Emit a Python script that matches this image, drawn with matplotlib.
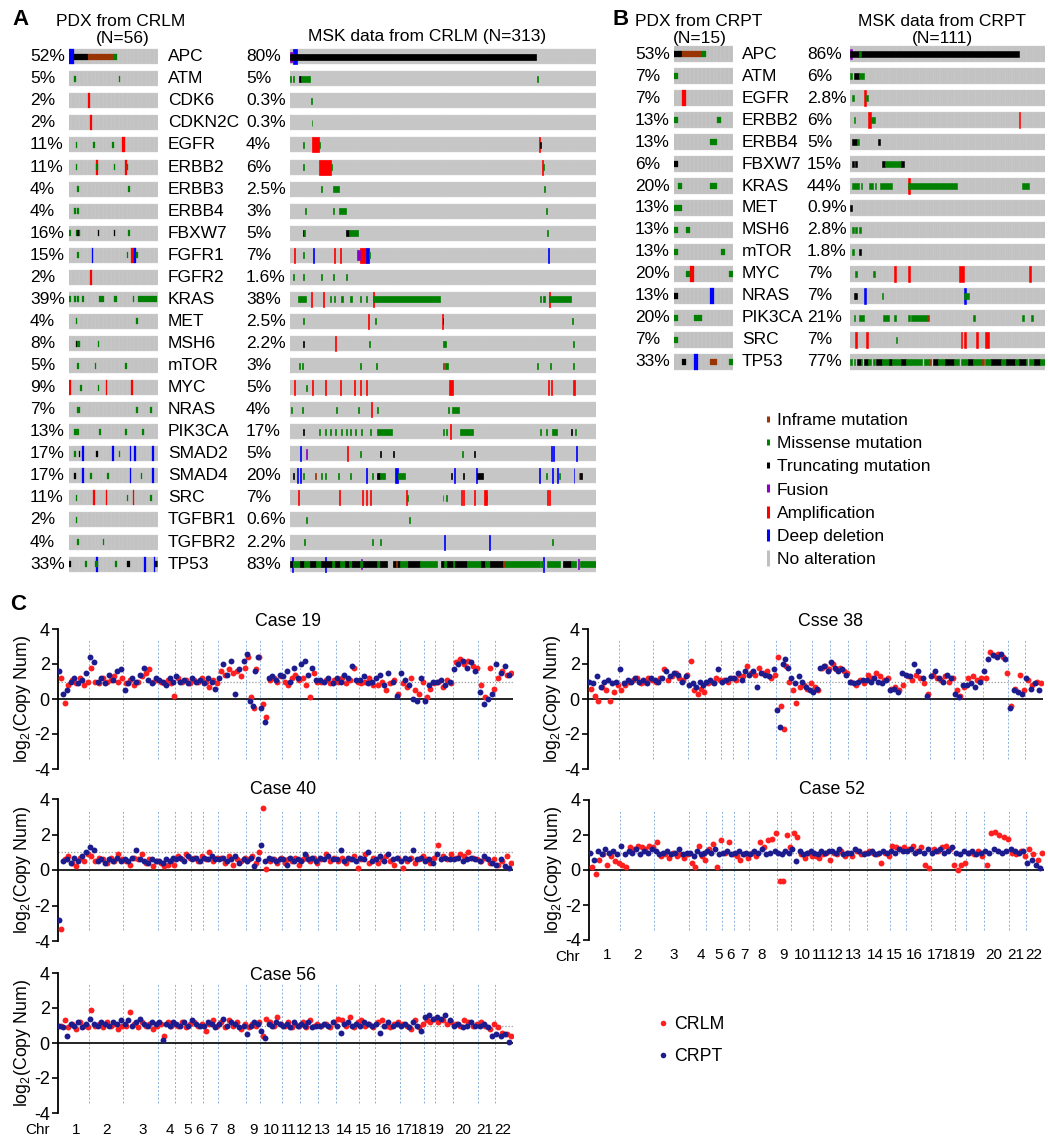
import numpy as np
import matplotlib
matplotlib.use('Agg')
import matplotlib.pyplot as plt
from matplotlib.lines import Line2D

plt.rcParams['font.family'] = ['Liberation Sans', 'DejaVu Sans']
plt.rcParams['axes.unicode_minus'] = False
plt.rcParams['mathtext.fontset'] = 'custom'
plt.rcParams['mathtext.rm'] = 'Liberation Sans'
plt.rcParams['mathtext.it'] = 'Liberation Sans:italic'

# ---------------------------------------------------------------- data: oncoprints
genes_A = ['APC', 'ATM', 'CDK6', 'CDKN2C', 'EGFR', 'ERBB2', 'ERBB3', 'ERBB4', 'FBXW7', 'FGFR1',
           'FGFR2', 'KRAS', 'MET', 'MSH6', 'mTOR', 'MYC', 'NRAS', 'PIK3CA', 'SMAD2', 'SMAD4',
           'SRC', 'TGFBR1', 'TGFBR2', 'TP53']
pct_pdx_crlm = ['52%', '5%', '2%', '2%', '11%', '11%', '4%', '4%', '16%', '15%', '2%', '39%',
                '4%', '8%', '5%', '9%', '7%', '13%', '17%', '17%', '11%', '2%', '4%', '33%']
pct_msk_crlm = ['80%', '5%', '0.3%', '0.3%', '4%', '6%', '2.5%', '3%', '5%', '7%', '1.6%', '38%',
                '2.5%', '2.2%', '3%', '5%', '4%', '17%', '5%', '20%', '7%', '0.6%', '2.2%', '83%']
n_pdx_crlm = 56
n_msk_crlm = 313

genes_B = ['APC', 'ATM', 'EGFR', 'ERBB2', 'ERBB4', 'FBXW7', 'KRAS', 'MET', 'MSH6', 'mTOR',
           'MYC', 'NRAS', 'PIK3CA', 'SRC', 'TP53']
pct_pdx_crpt = ['53%', '7%', '7%', '13%', '13%', '6%', '20%', '13%', '13%', '13%', '20%', '13%',
                '20%', '7%', '33%']
pct_msk_crpt = ['86%', '6%', '2.8%', '6%', '5%', '15%', '44%', '0.9%', '2.8%', '1.8%', '7%', '7%',
                '21%', '7%', '77%']
n_pdx_crpt = 15
n_msk_crpt = 111

# alteration runs: (first sample, number of samples, type)
# M missense, T truncating, I inframe, F fusion, A amplification, D deep deletion
alt_pdx_crlm = {
    'APC': [(0, 3, 'D'), (3, 9, 'T'), (12, 16, 'I'), (28, 2, 'M')],
    'ATM': [(3, 1, 'M'), (31, 1, 'M')],
    'CDK6': [(12, 1, 'A')],
    'CDKN2C': [(13, 1, 'A')],
    'EGFR': [(4, 1, 'M'), (15, 1, 'M'), (27, 1, 'M'), (33, 2, 'A')],
    'ERBB2': [(4, 1, 'M'), (17, 1, 'A'), (17, 1, 'M'), (28, 1, 'M'), (35, 1, 'A'), (36, 1, 'M')],
    'ERBB3': [(5, 1, 'M'), (37, 1, 'M')],
    'ERBB4': [(3, 1, 'M'), (5, 1, 'M')],
    'FBXW7': [(0, 1, 'M'), (4, 1, 'M'), (5, 1, 'T'), (6, 1, 'M'), (18, 1, 'T'), (28, 1, 'T'), (37, 1, 'M')],
    'FGFR1': [(5, 1, 'M'), (14, 1, 'D'), (36, 1, 'M'), (39, 2, 'A'), (41, 1, 'D'), (42, 1, 'M')],
    'FGFR2': [(13, 1, 'A')],
    'KRAS': [(0, 1, 'M'), (3, 1, 'M'), (5, 1, 'M'), (8, 1, 'M'), (19, 3, 'M'), (28, 2, 'M'),
             (40, 1, 'M'), (43, 12, 'M')],
    'MET': [(4, 1, 'M'), (42, 1, 'M')],
    'MSH6': [(4, 1, 'T'), (5, 1, 'M'), (6, 1, 'M'), (18, 1, 'M')],
    'mTOR': [(5, 1, 'M'), (16, 1, 'M'), (35, 1, 'M')],
    'MYC': [(0, 1, 'A'), (7, 1, 'M'), (18, 1, 'M'), (23, 1, 'A'), (39, 1, 'A')],
    'NRAS': [(5, 2, 'M'), (42, 1, 'M'), (51, 1, 'M')],
    'PIK3CA': [(3, 3, 'M'), (19, 1, 'M'), (35, 1, 'M'), (46, 1, 'M')],
    'SMAD2': [(3, 1, 'M'), (6, 1, 'T'), (8, 1, 'D'), (17, 1, 'T'), (27, 1, 'D'), (31, 1, 'M'),
              (38, 1, 'D'), (41, 1, 'D'), (52, 1, 'D')],
    'SMAD4': [(3, 1, 'T'), (8, 1, 'D'), (13, 1, 'M'), (24, 1, 'M'), (38, 1, 'D'), (45, 1, 'M'), (52, 1, 'D')],
    'SRC': [(4, 1, 'M'), (15, 1, 'A'), (23, 1, 'A'), (36, 1, 'M'), (40, 1, 'A'), (51, 1, 'M')],
    'TGFBR1': [(4, 1, 'M')],
    'TGFBR2': [(5, 1, 'M'), (21, 1, 'M')],
    'TP53': [(0, 1, 'T'), (10, 1, 'M'), (16, 2, 'M'), (17, 1, 'D'), (29, 1, 'M'), (36, 2, 'T'),
             (47, 1, 'D'), (53, 1, 'D'), (54, 1, 'T'), (55, 1, 'M')],
}

alt_msk_crlm = {
    'APC': [(0, 252, 'T'), (0, 3, 'F'), (3, 4, 'D')],
    'ATM': [(0, 1, 'M'), (3, 1, 'M'), (9, 2, 'T'), (11, 9, 'M'), (253, 1, 'M')],
    'CDK6': [(21, 1, 'M')],
    'CDKN2C': [(22, 1, 'M')],
    'EGFR': [(13, 1, 'M'), (23, 7, 'A'), (30, 1, 'M'), (255, 1, 'A'), (256, 1, 'T')],
    'ERBB2': [(13, 1, 'M'), (30, 12, 'A'), (42, 1, 'M'), (258, 1, 'A'), (259, 1, 'M')],
    'ERBB3': [(32, 1, 'M'), (44, 6, 'M'), (260, 1, 'M')],
    'ERBB4': [(15, 1, 'M'), (44, 1, 'M'), (50, 7, 'M'), (262, 1, 'M')],
    'FBXW7': [(13, 1, 'T'), (14, 1, 'M'), (57, 3, 'T'), (60, 10, 'M'), (263, 1, 'M')],
    'FGFR1': [(4, 1, 'A'), (13, 1, 'M'), (24, 1, 'D'), (45, 1, 'A'), (51, 1, 'A'), (69, 3, 'F'),
              (72, 6, 'A'), (78, 3, 'D'), (81, 1, 'M'), (264, 1, 'D')],
    'FGFR2': [(3, 1, 'M'), (13, 1, 'M'), (32, 1, 'M'), (44, 1, 'M'), (57, 1, 'M')],
    'KRAS': [(8, 8, 'M'), (21, 1, 'A'), (34, 1, 'A'), (41, 1, 'M'), (45, 1, 'M'), (52, 2, 'M'),
             (61, 2, 'M'), (72, 1, 'M'), (78, 1, 'M'), (85, 1, 'A'), (85, 68, 'M'), (256, 1, 'M'),
             (259, 2, 'M'), (265, 1, 'A'), (265, 22, 'M')],
    'MET': [(13, 1, 'M'), (80, 1, 'A'), (87, 1, 'M'), (155, 1, 'A'), (156, 1, 'T'), (288, 1, 'M')],
    'MSH6': [(13, 1, 'T'), (46, 1, 'A'), (81, 1, 'M'), (157, 3, 'M'), (289, 1, 'M')],
    'mTOR': [(9, 1, 'M'), (12, 1, 'M'), (72, 1, 'M'), (88, 1, 'M'), (157, 1, 'I'), (159, 3, 'M'),
             (253, 1, 'M'), (266, 1, 'M'), (289, 1, 'M')],
    'MYC': [(4, 1, 'A'), (16, 1, 'M'), (23, 1, 'A'), (36, 1, 'A'), (51, 1, 'A'), (65, 1, 'A'),
            (72, 1, 'A'), (78, 1, 'A'), (163, 4, 'A'), (264, 1, 'A'), (267, 1, 'A'), (289, 3, 'A')],
    'NRAS': [(1, 1, 'M'), (12, 1, 'M'), (47, 1, 'M'), (70, 1, 'M'), (83, 1, 'A'), (89, 1, 'M'),
             (162, 1, 'M'), (166, 7, 'M')],
    'PIK3CA': [(13, 1, 'T'), (30, 1, 'M'), (36, 1, 'M'), (41, 1, 'M'), (46, 1, 'M'), (52, 1, 'M'),
               (57, 1, 'M'), (61, 1, 'M'), (66, 1, 'M'), (73, 1, 'M'), (82, 1, 'M'), (89, 15, 'M'),
               (157, 1, 'M'), (160, 1, 'M'), (164, 1, 'A'), (174, 13, 'M'), (256, 1, 'M'),
               (262, 1, 'M'), (268, 5, 'M'), (287, 1, 'T'), (292, 1, 'M')],
    'SMAD2': [(10, 1, 'D'), (16, 1, 'F'), (58, 1, 'A'), (72, 1, 'M'), (92, 1, 'T'), (105, 1, 'T'),
              (176, 1, 'M'), (188, 1, 'T'), (267, 1, 'D'), (269, 1, 'D'), (293, 1, 'D')],
    'SMAD4': [(3, 1, 'T'), (7, 1, 'D'), (10, 1, 'D'), (13, 1, 'M'), (26, 1, 'I'), (32, 1, 'M'),
              (36, 1, 'M'), (49, 1, 'M'), (61, 1, 'M'), (78, 1, 'D'), (84, 1, 'M'), (89, 3, 'T'),
              (92, 5, 'M'), (107, 3, 'D'), (110, 8, 'M'), (165, 1, 'T'), (168, 1, 'D'), (177, 1, 'T'),
              (190, 1, 'D'), (191, 6, 'T'), (255, 1, 'D'), (262, 1, 'M'), (268, 1, 'D'), (273, 1, 'D'),
              (275, 1, 'M'), (290, 1, 'D'), (296, 1, 'I'), (297, 2, 'T')],
    'SRC': [(8, 1, 'A'), (50, 1, 'A'), (74, 1, 'A'), (78, 1, 'A'), (82, 1, 'A'), (119, 1, 'A'),
            (120, 1, 'M'), (156, 1, 'M'), (160, 1, 'M'), (175, 1, 'A'), (177, 1, 'A'), (188, 1, 'A'),
            (198, 3, 'A'), (201, 1, 'M'), (263, 1, 'A'), (265, 1, 'A')],
    'TGFBR1': [(16, 1, 'M'), (122, 1, 'M')],
    'TGFBR2': [(14, 1, 'M'), (84, 1, 'M'), (92, 1, 'M'), (158, 1, 'D'), (204, 1, 'D'), (268, 1, 'M')],
    'TP53': [(0, 2, 'T'), (2, 1, 'D'), (3, 7, 'M'), (10, 4, 'T'), (14, 6, 'M'), (20, 7, 'T'),
             (27, 5, 'M'), (32, 11, 'T'), (36, 1, 'D'), (43, 3, 'M'), (46, 5, 'T'), (51, 5, 'M'),
             (56, 4, 'T'), (60, 3, 'M'), (63, 9, 'T'), (72, 3, 'M'), (73, 1, 'F'), (75, 14, 'T'),
             (89, 3, 'M'), (92, 7, 'T'), (105, 8, 'T'), (108, 1, 'I'), (113, 8, 'M'), (121, 12, 'T'),
             (133, 17, 'M'), (154, 4, 'T'), (158, 3, 'M'), (161, 6, 'T'), (167, 2, 'M'),
             (169, 12, 'T'), (181, 14, 'M'), (195, 4, 'T'), (199, 6, 'M'), (205, 13, 'T'),
             (218, 2, 'I'), (220, 36, 'M'), (257, 2, 'M'), (259, 1, 'D'), (263, 13, 'M'),
             (279, 8, 'T'), (287, 6, 'M'), (295, 1, 'F'), (297, 16, 'M')],
}

alt_pdx_crpt = {
    'APC': [(0, 2, 'T'), (2, 5, 'I'), (7, 1, 'M')],
    'ATM': [(0, 1, 'M')],
    'EGFR': [(2, 1, 'A')],
    'ERBB2': [(0, 1, 'M'), (11, 1, 'M')],
    'ERBB4': [(9, 2, 'M')],
    'FBXW7': [(0, 1, 'T')],
    'KRAS': [(1, 1, 'M'), (9, 2, 'M')],
    'MET': [(0, 2, 'M')],
    'MSH6': [(0, 1, 'M'), (3, 1, 'M')],
    'mTOR': [(0, 1, 'M'), (12, 1, 'M')],
    'MYC': [(3, 1, 'M'), (4, 1, 'A'), (14, 1, 'M')],
    'NRAS': [(0, 1, 'T'), (9, 1, 'D')],
    'PIK3CA': [(0, 1, 'M'), (5, 2, 'M')],
    'SRC': [(0, 1, 'M')],
    'TP53': [(2, 1, 'T'), (5, 1, 'D'), (9, 2, 'I'), (14, 1, 'M')],
}

alt_msk_crpt = {
    'APC': [(0, 96, 'T'), (0, 1, 'F'), (5, 1, 'M')],
    'ATM': [(0, 1, 'M'), (2, 3, 'T'), (5, 3, 'M')],
    'EGFR': [(1, 1, 'M'), (8, 1, 'A'), (9, 1, 'M')],
    'ERBB2': [(2, 1, 'M'), (10, 2, 'A'), (12, 2, 'M'), (96, 1, 'A')],
    'ERBB4': [(1, 3, 'T'), (4, 1, 'M'), (16, 1, 'T')],
    'FBXW7': [(1, 1, 'T'), (3, 1, 'T'), (18, 2, 'T'), (20, 9, 'M'), (29, 2, 'T')],
    'KRAS': [(1, 4, 'M'), (6, 1, 'M'), (11, 2, 'M'), (14, 1, 'M'), (17, 7, 'M'), (33, 1, 'A'),
             (33, 28, 'M'), (98, 4, 'M')],
    'MET': [(0, 1, 'T')],
    'MSH6': [(1, 1, 'M'), (3, 1, 'M'), (5, 1, 'M')],
    'mTOR': [(1, 1, 'M'), (5, 1, 'T')],
    'MYC': [(3, 1, 'M'), (13, 1, 'M'), (25, 1, 'A'), (33, 1, 'A'), (62, 3, 'A'), (102, 1, 'A')],
    'NRAS': [(2, 1, 'T'), (3, 1, 'T'), (8, 1, 'D'), (18, 1, 'M'), (65, 1, 'D'), (65, 3, 'M')],
    'PIK3CA': [(2, 1, 'M'), (5, 3, 'M'), (19, 3, 'M'), (25, 1, 'M'), (33, 1, 'M'), (35, 9, 'M'),
               (44, 1, 'I'), (70, 1, 'M'), (98, 1, 'M'), (103, 1, 'M')],
    'SRC': [(3, 1, 'A'), (9, 1, 'A'), (26, 1, 'M'), (63, 1, 'A'), (65, 1, 'A'), (72, 1, 'A'), (77, 2, 'A')],
    'TP53': [(0, 1, 'M'), (2, 1, 'M'), (4, 2, 'T'), (6, 1, 'M'), (8, 2, 'T'), (10, 2, 'M'), (13, 1, 'M'),
             (15, 3, 'T'), (18, 4, 'M'), (22, 2, 'T'), (24, 5, 'M'), (29, 3, 'T'), (32, 3, 'M'),
             (35, 6, 'M'), (42, 3, 'M'), (45, 1, 'I'), (47, 3, 'T'), (50, 4, 'M'), (54, 5, 'T'),
             (59, 3, 'M'), (63, 4, 'M'), (67, 3, 'T'), (70, 5, 'M'), (75, 1, 'I'), (77, 3, 'M'),
             (80, 6, 'T'), (86, 3, 'M'), (89, 5, 'T'), (94, 2, 'M'), (96, 4, 'T'), (100, 1, 'M'),
             (102, 3, 'M'), (105, 3, 'T'), (108, 3, 'M')],
}

legend_labels = ['Inframe mutation', 'Missense mutation', 'Truncating mutation', 'Fusion',
                 'Amplification', 'Deep deletion', 'No alteration']

# ---------------------------------------------------------------- data: copy number
chrom_names = [str(i) for i in range(1, 23)]
chrom_width = [92, 104, 105, 51, 46, 37, 45, 85, 41, 67, 53, 55, 52, 69, 48, 75, 73, 34, 52, 77, 50, 52]
chrom_label_pos = [55, 145, 255, 335, 388, 425, 465, 518, 585, 640, 693, 740, 793, 860, 915, 975,
                   1038, 1083, 1135, 1215, 1280, 1335]

case19_crlm = [[1.2, -0.2, 0.8, 1.1, 0.9, 1.2, 0.8, 1.0], [1.8, 1.0, 0.9, 1.2, 1.0, 1.1, 1.3, 1.0, 1.2],
               [0.9, 1.1, 0.8, 1.0, 1.3, 1.5, 1.7, 1.0, 1.1], [1.0, 0.9, 1.1, 0.9, 0.2], [1.2, 1.0, 1.1, 0.9],
               [1.1, 1.0, 1.2], [1.0, 0.7, 1.1, 0.9], [1.6, 1.4, 1.7, 1.5, 1.6, 1.3, 1.8],
               [2.4, 0.1, -0.5, 1.7, 2.4], [-0.3, -1.0, 1.1, 1.2, 1.0, 1.3], [1.0, 0.8, 1.2, 1.4, 1.1],
               [1.2, 0.8, 0.1, 1.5, 1.0], [1.0, 1.1, 0.9, 1.1], [1.0, 1.2, 0.9, 1.1, 1.8, 1.0],
               [0.9, 1.0, 1.2, 0.8], [0.8, 1.0, 0.5, 0.9, 1.1, 0.3], [0.9, 0.7, 1.2, 0.5, 0.3, 1.0],
               [0.1, 0.6, 0.9], [1.0, 0.7, 1.1, 0.9], [2.1, 2.3, 2.0, 2.2, 1.9, 1.8],
               [0.8, 0.1, 1.8, 0.6], [1.2, 1.6, 1.4, 1.5]]
case19_crpt = [[1.6, 0.3, 0.5, 1.0, 1.2, 0.9, 1.1, 1.5], [2.4, 2.1, 1.0, 1.2, 0.9, 1.4, 1.1, 1.6, 1.7],
               [0.5, 0.9, 1.2, 1.0, 1.4, 1.8, 1.1, 0.9, 1.2], [1.1, 1.0, 0.8, 1.2, 1.0], [1.3, 1.0, 1.1, 0.9],
               [1.2, 1.0, 1.1], [0.9, 1.2, 1.0, 0.6], [1.2, 2.0, 1.4, 2.2, 0.3, 1.7, 2.2],
               [2.6, -0.1, -0.4, 1.6, 2.4], [-0.5, -1.3, 1.2, 1.3, 1.1, 1.4], [1.3, 1.6, 1.0, 1.8, 1.2],
               [2.0, 2.2, 1.4, 1.8, 1.1], [1.1, 1.0, 1.2, 0.9], [1.2, 1.0, 1.4, 1.2, 1.9, 1.1],
               [1.1, 1.3, 0.9, 1.0], [1.2, 1.4, 0.8, 1.5, 1.0, 0.2], [1.5, 1.1, 0.8, 0.0, -0.1, 1.2],
               [-0.1, 0.8, 1.0], [1.0, 1.1, 0.8, 1.0], [1.7, 2.0, 2.2, 1.8, 2.1, 1.6],
               [0.4, -0.3, 0.0, 0.3], [2.0, 1.5, 1.9, 1.4]]

case38_crlm = [[0.6, 0.2, -0.1, 0.7, 0.5, -0.1, 0.4, 0.8], [0.5, 0.8, 1.0, 1.1, 1.2, 0.9, 1.0, 1.2, 1.1],
               [1.0, 1.2, 1.7, 1.1, 1.3, 1.5, 1.2, 1.1, 1.4], [2.2, 0.5, 0.3, 0.6, 0.4], [0.9, 1.0, 1.2, 1.1],
               [1.1, 1.0, 1.2], [1.1, 1.4, 1.3, 1.9], [1.5, 1.4, 1.8, 1.5, 1.6, 1.2, 1.4],
               [2.4, -0.4, -1.7, 1.9, 1.0], [0.5, -0.2, 0.7, 0.8, 0.6, 0.9], [0.7, 0.5, 1.8, 1.9, 1.7],
               [2.0, 1.7, 1.8, 1.6, 1.5], [1.0, 0.8, 1.1, 0.9], [1.4, 1.2, 1.5, 1.3, 1.1, 1.2],
               [0.6, 0.7, 0.5, 0.8], [1.3, 1.1, 1.4, 1.2, 0.9, 0.3], [1.4, 1.2, 1.1, 1.3, 1.0, 1.2],
               [0.5, 0.2, 0.7], [1.2, 1.3, 1.1, 1.2], [1.2, 2.7, 2.5, 2.6, 2.4, 1.5],
               [-0.4, 0.6, 1.4, 0.5], [1.1, 0.8, 1.0, 0.9]]
case38_crpt = [[1.0, 0.9, 1.3, 0.7, 1.0, 1.1, 0.9, 1.0], [1.7, 0.9, 1.1, 1.0, 1.2, 1.0, 1.1, 0.9, 1.2],
               [1.1, 1.0, 1.2, 1.6, 1.3, 1.5, 1.4, 1.0, 1.3], [0.8, 0.9, 0.7, 1.0, 0.8], [1.0, 1.1, 0.9, 1.7],
               [1.0, 1.1, 1.2], [1.2, 1.5, 1.1, 1.6], [1.4, 1.6, 0.7, 1.5, 1.4, 1.3, 1.7],
               [-0.6, -1.6, 2.0, 2.3, 1.8], [1.2, 0.9, 1.3, 1.0, 0.7, 0.5], [0.4, 0.6, 1.8, 1.9, 1.6],
               [2.1, 1.8, 1.6, 1.7, 1.4], [1.0, 0.9, 1.0, 1.1], [1.1, 1.0, 1.2, 1.0, 0.9, 1.1],
               [0.5, 0.6, 0.4, 1.5], [1.4, 1.3, 2.0, 1.6, 1.2, 0.2], [1.3, 1.6, 1.2, 1.0, 1.4, 1.2],
               [0.3, 0.1, 0.8], [0.8, 0.9, 0.7, 1.0], [1.6, 2.3, 2.5, 2.4, 2.6, 2.3],
               [-0.5, 0.5, 0.4, 0.3], [1.2, 0.6, 0.9, 0.5]]

case40_crlm = [[-3.3, 0.6, 0.8, 0.4, 0.2, 0.7, 0.5, 0.9], [0.8, 0.5, 0.7, 0.6, 0.4, 0.7, 0.5, 0.9, 0.6],
               [0.5, 0.3, 0.7, 0.6, 0.9, 0.4, 0.6, 0.2, 0.5], [0.4, 0.2, 0.3, 0.5, 0.3], [0.8, 0.6, 0.9, 0.7],
               [0.7, 0.5, 0.8], [0.6, 1.0, 0.5, 0.7], [0.7, 0.4, 0.8, 0.3, 0.6, 0.5, 0.7],
               [0.6, 0.8, 0.4, 1.0], [3.5, 0.05, 0.5, 0.6, 0.4, 0.7], [0.4, 0.6, 0.5, 0.7, 0.3],
               [0.6, 0.8, 0.5, 0.7, 0.4], [0.6, 0.9, 0.5, 0.7], [0.5, 0.7, 0.4, 0.6, 0.8, 0.1],
               [0.6, 0.9, 0.4, 0.7], [0.4, 0.6, 0.8, 0.5, 0.3, 0.7], [0.1, 0.5, 0.7, 0.4, 0.6, 0.8],
               [0.6, 0.4, 0.7], [1.4, 0.8, 0.6, 0.9], [0.7, 0.9, 0.8, 1.0, 0.7, 0.6],
               [0.5, 0.7, 0.4, 0.6], [0.3, 0.5, 0.8, 0.4]]
case40_crpt = [[-2.8, 0.5, 0.6, 0.4, 0.7, 0.5, 0.8, 1.0], [1.3, 1.1, 0.5, 0.6, 0.4, 0.6, 0.5, 0.7, 0.5],
               [0.6, 0.5, 0.7, 1.1, 0.6, 0.5, 0.4, 0.6, 0.5], [0.5, 0.4, 0.6, 0.5, 0.7], [0.6, 0.7, 0.5, 0.8],
               [0.6, 0.7, 0.5], [0.7, 0.6, 0.8, 0.6], [0.6, 0.7, 0.5, 0.6, 0.8, 0.4, 0.6],
               [0.5, 0.7, 0.2, 0.6], [1.4, 0.5, 0.7, 0.6, 0.5, 0.6], [0.6, 0.3, 0.7, 0.5, 0.6],
               [0.5, 0.9, 0.6, 0.7, 0.5], [0.7, 0.6, 0.8, 0.6], [0.6, 1.1, 0.5, 0.7, 0.6, 0.5],
               [0.7, 0.6, 1.0, 0.5], [0.6, 0.8, 0.5, 0.9, 0.6, 0.7], [0.5, 0.7, 0.6, 1.1, 0.6, 0.7],
               [0.5, 0.6, 0.4], [0.9, 0.6, 0.7, 0.6], [0.6, 0.7, 0.5, 0.6, 0.7, 0.6],
               [0.5, 0.8, 0.6, 0.4], [0.3, 0.6, 0.2, 0.1]]

case52_crlm = [[0.2, -0.2, 0.6, 0.9, 0.3, 0.8, 0.5, 0.4], [0.3, 0.2, 1.3, 1.2, 1.4, 1.3, 1.2, 1.4, 1.3],
               [1.6, 0.8, 0.9, 0.7, 1.0, 0.8, 0.9, 0.7, 0.9], [0.4, 0.2, 1.4, 0.8, 0.6], [1.2, 1.5, 0.2, 1.7],
               [1.0, 1.6, 0.9], [0.8, 0.6, 0.9, 0.7], [1.0, 0.8, 1.6, 1.3, 1.7, 1.8, 2.1],
               [-0.6, -0.6, 2.0, 1.3], [2.1, 1.9, 0.9, 0.7, 1.0, 0.8], [0.8, 0.7, 0.9, 1.0, 0.6],
               [1.0, 0.9, 1.1, 0.8, 1.0], [0.8, 1.1, 0.9, 1.0], [1.1, 1.0, 0.9, 0.4, 1.0, 0.8],
               [1.4, 1.3, 1.2, 1.3], [1.2, 1.4, 1.1, 1.3, 0.3, 0.1], [1.2, 1.1, 1.3, 1.4, 1.2, 0.3],
               [0.0, 0.3, 0.4], [1.0, 0.9, 1.1, 0.8], [0.3, 2.1, 2.2, 2.0, 1.9, 1.8],
               [1.0, 0.9, 1.1, 0.8], [1.2, 0.9, 0.6, 1.0]]
case52_crpt = [[1.0, 0.6, 1.1, 0.9, 1.2, 1.0, 1.1, 0.9], [1.4, 0.9, 1.1, 1.0, 1.2, 0.9, 1.1, 1.0, 1.2],
               [1.1, 0.9, 1.0, 1.1, 0.9, 1.0, 1.2, 0.9, 1.0], [1.0, 0.8, 1.1, 0.9, 1.0], [1.1, 1.0, 1.2, 0.9],
               [1.0, 1.1, 0.9], [1.0, 1.1, 0.9, 1.0], [0.9, 1.1, 1.0, 1.2, 0.9, 1.0, 1.1],
               [1.0, 0.9, 1.1, 1.0], [1.2, 0.5, 1.1, 0.9, 1.0, 1.1], [1.0, 0.9, 1.1, 1.0, 1.1],
               [1.1, 1.0, 1.2, 0.9, 1.0], [1.0, 1.2, 1.1, 0.9], [1.0, 1.1, 0.9, 1.0, 1.1, 1.0],
               [1.1, 1.0, 1.2, 1.1], [1.1, 1.2, 1.0, 1.1, 1.0, 1.2], [1.0, 1.1, 1.2, 1.0, 1.1, 1.3],
               [1.0, 0.9, 1.1], [1.0, 1.1, 0.9, 1.0], [1.1, 1.0, 1.2, 1.1, 1.0, 1.1],
               [1.2, 1.1, 1.0, 1.1], [0.4, 0.6, 0.3, 0.1]]

case56_crlm = [[1.0, 1.3, 0.9, 1.1, 0.8, 1.2, 1.0, 0.9], [1.9, 1.0, 1.1, 0.9, 1.2, 1.0, 1.1, 0.8, 1.0],
               [1.0, 1.8, 1.1, 0.9, 1.2, 1.0, 1.1, 0.8, 1.0], [1.1, 0.4, 1.2, 1.0, 1.1], [1.0, 1.2, 0.9, 1.1],
               [1.2, 1.0, 1.1], [0.7, 1.1, 1.3, 1.0], [1.2, 0.9, 1.3, 1.0, 1.2, 0.8, 1.1],
               [0.9, 1.1, 1.0, 1.2], [0.4, 1.4, 1.2, 1.0, 1.5, 1.1], [1.0, 1.2, 0.9, 1.1, 1.0],
               [1.2, 0.9, 1.3, 1.0, 1.1], [1.0, 1.1, 0.9, 1.2], [1.4, 1.3, 1.0, 1.5, 0.9, 1.2],
               [1.3, 1.0, 1.1, 0.9], [1.2, 1.3, 1.0, 0.9, 1.1, 1.2], [1.1, 1.0, 0.8, 1.3, 0.9, 1.1],
               [1.3, 1.2, 1.4], [1.2, 1.3, 1.1, 1.2], [1.1, 1.0, 1.3, 1.2, 1.0, 1.1],
               [1.2, 1.0, 0.8, 1.1], [0.9, 0.6, 0.5, 0.4]]
case56_crpt = [[1.0, 0.9, 0.4, 1.1, 1.0, 1.2, 0.9, 1.1], [1.4, 1.1, 1.0, 1.2, 1.1, 1.0, 1.2, 1.1, 1.3],
               [1.1, 1.3, 1.0, 1.2, 1.4, 1.1, 1.0, 1.2, 1.1], [1.2, 0.2, 1.1, 1.0, 1.2], [1.1, 1.0, 1.2, 1.0],
               [1.3, 1.1, 1.0], [1.0, 1.2, 1.1, 0.9], [1.1, 1.4, 1.0, 1.2, 1.1, 0.9, 1.0],
               [0.5, 1.0, 1.2, 1.1], [0.7, 0.3, 1.1, 1.0, 1.2, 1.1], [1.0, 1.1, 0.9, 1.2, 1.0],
               [1.1, 1.0, 1.2, 0.9, 1.0], [1.0, 1.1, 1.0, 1.2], [1.0, 0.6, 1.1, 1.2, 1.0, 1.1],
               [1.0, 1.2, 1.1, 1.0], [1.1, 0.6, 1.0, 1.2, 1.0, 1.1], [1.0, 1.1, 0.9, 1.2, 1.0, 0.7],
               [1.5, 1.6, 1.4], [1.5, 1.4, 1.6, 1.3], [1.0, 1.1, 0.9, 1.0, 1.2, 1.0],
               [1.0, 1.1, 0.9, 0.4], [0.5, 0.4, 0.5, 0.05]]

# ---------------------------------------------------------------- styles
COL = {'M': '#008000', 'T': '#000000', 'I': '#993404', 'F': '#8B00C9', 'A': '#FF0000', 'D': '#0000FF'}
HFRAC = {'A': 1.0, 'D': 1.0, 'F': 0.65, 'M': 0.4, 'T': 0.4, 'I': 0.4}
ORDER = {'A': 0, 'D': 0, 'F': 1, 'M': 2, 'T': 2, 'I': 2}
GRAY = '#c0c0c0'
RED = '#ff1f1f'
NAVY = '#1c1c8f'

W, H = 1048, 1139
fig = plt.figure(figsize=(W / 100, H / 100), dpi=100)
fig.patch.set_facecolor('white')

ov = fig.add_axes([0, 0, 1, 1])
ov.set_xlim(0, W)
ov.set_ylim(H, 0)
ov.axis('off')


def add_ax(x0, y0, x1, y1):
    return fig.add_axes([x0 / W, 1 - y1 / H, (x1 - x0) / W, (y1 - y0) / H])


def oncoprint(ax, genes, n, alts, th, edge):
    ax.set_xlim(0, n)
    ax.set_ylim(len(genes) - 0.5, -0.5)
    ax.axis('off')
    idx = np.arange(n)
    for i, g in enumerate(genes):
        ax.bar(idx, th, bottom=i - th / 2, width=1, align='edge', color=GRAY,
               edgecolor='#d0d0d0', linewidth=0.25)
        for s, k, c in sorted(alts.get(g, []), key=lambda r: ORDER[r[2]]):
            h = th * HFRAC[c]
            ax.bar(s, h, bottom=i - h / 2, width=k, align='edge', color=COL[c],
                   edgecolor=COL[c], linewidth=edge)


FS = 12.5
# ---------------- Panel A
A_top, A_pitch = 45.7, 22.06
A_bot = A_top + A_pitch * len(genes_A)
oncoprint(add_ax(69.3, A_top, 158.3, A_bot), genes_A, n_pdx_crlm, alt_pdx_crlm, 0.68, 0.2)
oncoprint(add_ax(290, A_top, 596, A_bot), genes_A, n_msk_crlm, alt_msk_crlm, 0.68, 0.5)
for i, g in enumerate(genes_A):
    y = A_top + (i + 0.5) * A_pitch
    ov.text(30, y, pct_pdx_crlm[i], ha='left', va='center', fontsize=FS)
    ov.text(168, y, g, ha='left', va='center', fontsize=FS)
    ov.text(246, y, pct_msk_crlm[i], ha='left', va='center', fontsize=FS)
ov.text(12, 19.5, 'A', ha='left', va='center', fontsize=16, fontweight='bold')
ov.text(121, 21.7, 'PDX from CRLM', ha='center', va='center', fontsize=FS)
ov.text(123, 38, '(N=56)', ha='center', va='center', fontsize=FS)
ov.text(427.5, 36.7, 'MSK data from CRLM (N=313)', ha='center', va='center', fontsize=FS)

# ---------------- Panel B
B_top, B_pitch = 43.3, 21.96
B_bot = B_top + B_pitch * len(genes_B)
oncoprint(add_ax(674, B_top, 733.3, B_bot), genes_B, n_pdx_crpt, alt_pdx_crpt, 0.73, 0.2)
oncoprint(add_ax(850, B_top, 1045, B_bot), genes_B, n_msk_crpt, alt_msk_crpt, 0.73, 0.4)
for i, g in enumerate(genes_B):
    y = B_top + (i + 0.5) * B_pitch
    ov.text(635, y, pct_pdx_crpt[i], ha='left', va='center', fontsize=FS)
    ov.text(742, y, g, ha='left', va='center', fontsize=FS)
    ov.text(807, y, pct_msk_crpt[i], ha='left', va='center', fontsize=FS)
ov.text(612, 19.5, 'B', ha='left', va='center', fontsize=16, fontweight='bold')
ov.text(699, 21.7, 'PDX from CRPT', ha='center', va='center', fontsize=FS)
ov.text(700, 39, '(N=15)', ha='center', va='center', fontsize=FS)
ov.text(942.5, 21.7, 'MSK data from CRPT', ha='center', va='center', fontsize=FS)
ov.text(942.5, 39, '(N=111)', ha='center', va='center', fontsize=FS)

leg_cols = [COL['I'], COL['M'], COL['T'], COL['F'], COL['A'], COL['D'], GRAY]
leg_sizes = [5, 5, 5, 6, 8.6, 8.6, 12]
handles = [Line2D([], [], ls='', marker='|', ms=s, mew=2.2, color=c) for c, s in zip(leg_cols, leg_sizes)]
fig.legend(handles, legend_labels, loc='upper left', bbox_to_anchor=(763.6 / W, 1 - 413 / H),
           frameon=False, fontsize=FS, handlelength=0.5, handletextpad=0.27, labelspacing=0.46,
           borderaxespad=0, borderpad=0)

# ---------------- Panel C
bounds = np.concatenate([[0], np.cumsum(chrom_width)])
CFS = 12.8


def cnv_panel(ax, crlm, crpt, show_chr=False, chr_pad=4):
    ax.set_xlim(0, 1365)
    ax.set_ylim(-4, 4)
    ax.vlines(bounds[1:-1], -3.4, 3.4, colors='#8cb0dc', linestyles=(0, (2, 2)), linewidth=0.7)
    ax.axhline(1, color='#9a9a9a', lw=0.9, ls=(0, (1, 1.5)))
    ax.axhline(0, color='black', lw=1.2)
    for series, color, shift in ((crlm, RED, 0.2), (crpt, NAVY, -0.2)):
        xs, ys = [], []
        for c, vals in enumerate(series):
            n = len(vals)
            xs.extend(bounds[c] + (np.arange(n) + 0.5 + shift) * chrom_width[c] / n)
            ys.extend(vals)
        ax.scatter(xs, ys, s=18, color=color, linewidths=0, zorder=3)
    for sp in ('top', 'right', 'bottom'):
        ax.spines[sp].set_visible(False)
    ax.spines['left'].set_linewidth(1.3)
    ax.set_yticks([-4, -2, 0, 2, 4])
    ax.set_yticklabels(['-4', '-2', '0', '2', '4'])
    ax.tick_params(axis='y', length=4, width=1.2, labelsize=13, pad=2)
    ax.set_ylabel('log$_2$(Copy Num)', fontsize=CFS)
    ax.yaxis.set_label_coords(-0.055, 0.5)
    if show_chr:
        ax.set_xticks(chrom_label_pos)
        ax.set_xticklabels(chrom_names)
        ax.tick_params(axis='x', length=0, labelsize=11, pad=chr_pad)
    else:
        ax.set_xticks([])
    ax.set_facecolor('none')


cnv_panel(add_ax(58, 629, 513, 769), case19_crlm, case19_crpt)
cnv_panel(add_ax(588, 629, 1043, 769), case38_crlm, case38_crpt)
cnv_panel(add_ax(58, 799, 513, 941), case40_crlm, case40_crpt)
cnv_panel(add_ax(589, 800, 1044, 940), case52_crlm, case52_crpt, True, 5.5)
cnv_panel(add_ax(58, 973, 513, 1113), case56_crlm, case56_crpt, True, 7)

ov.text(10, 605, 'C', ha='left', va='center', fontsize=16, fontweight='bold')
ov.text(288, 622, 'Case 19', ha='center', va='center', fontsize=CFS)
ov.text(830, 622, 'Csse 38', ha='center', va='center', fontsize=CFS)
ov.text(283, 790, 'Case 40', ha='center', va='center', fontsize=CFS)
ov.text(832, 790, 'Case 52', ha='center', va='center', fontsize=CFS)
ov.text(283, 975, 'Case 56', ha='center', va='center', fontsize=CFS)
ov.text(568, 957, 'Chr', ha='center', va='center', fontsize=11)
ov.text(38, 1130, 'Chr', ha='center', va='center', fontsize=11)

h2 = [Line2D([], [], ls='', marker='o', ms=4, color=RED, mew=0),
      Line2D([], [], ls='', marker='o', ms=4, color=NAVY, mew=0)]
fig.legend(h2, ['CRLM', 'CRPT'], loc='upper left', bbox_to_anchor=(657.7 / W, 1 - 1016 / H),
           frameon=False, fontsize=CFS, handlelength=0.6, handletextpad=0.3, labelspacing=0.84,
           borderaxespad=0, borderpad=0)

fig.savefig('out.png', dpi=100)
